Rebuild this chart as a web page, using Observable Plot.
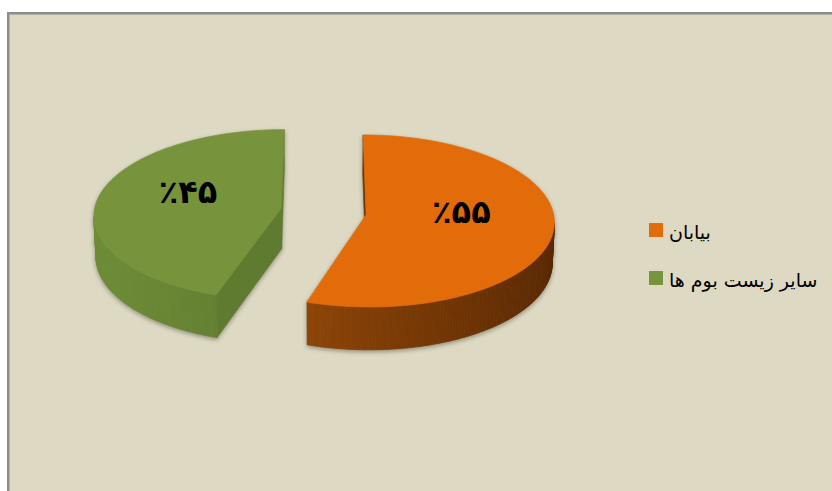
<!DOCTYPE html>
<html><head><meta charset="utf-8">
<script src="https://cdn.jsdelivr.net/npm/d3@7"></script>
<script src="https://cdn.jsdelivr.net/npm/@observablehq/plot@0.6"></script>
<style>
html,body{margin:0;padding:0;background:#fff;width:832px;height:491px;overflow:hidden;}
#frame{position:absolute;left:7px;top:12px;width:900px;height:600px;background:#DDD9C3;border-left:2px solid #8c8c8c;border-top:2px solid #8c8c8c;box-shadow:inset 1px 1px 0 #b3b1a6;}
#chart{position:absolute;left:0;top:0;}
#legend{position:absolute;left:649px;top:223px;font-family:"DejaVu Sans",sans-serif;font-size:19px;color:#000;}
.row{display:flex;align-items:center;height:14px;margin-bottom:34px;}
.sw{width:14px;height:14px;margin-right:6px;flex:none;}
.row span{position:relative;top:2px;white-space:nowrap;}
</style></head><body>
<div id="frame"></div>
<div id="chart"></div>
<div id="legend"></div>
<script>
// ---- data ----
const categories = ["بیابان", "سایر زیست بوم ها"];
const values = [55, 45];
const labels = ["٪۵۵", "٪۴۵"];
const topColors = ["#E36C0A", "#77933C"];
const wallLight = ["#A85309", "#6E8E37"];
const wallDark = ["#592803", "#52692A"];
const radialColors = ["#6E3306", "#5E7B30"];

// ---- 3D view parameters ----
const W = 832, H = 491, S = 187, CX = 323, CY = 211;
const sinT = 0.455, cosT = Math.sqrt(1 - sinT * sinT), T = 0.245, D = 12, EXP = 0.23;

function proj(X, Z, h) { // h: 0 top, 1 bottom
  const yUp = Z * sinT - h * T * cosT;
  const depth = Z * cosT + h * T * sinT;
  const s = D / (D + depth);
  return [X * s, yUp * s];
}
function visible(nX, nZ, PX, PZ) {
  return nX * (0 - PX) + nZ * (-D / cosT - PZ) > 0;
}

const arcs = d3.pie().sort(null).value(d => d)(values);
const rows = [];
const labelRows = [];
let pid = 0;
function addPoly(pts, fill) {
  const id = pid++;
  for (const [x, y] of pts) rows.push({id, x, y, fill});
}
arcs.forEach((a, i) => {
  const a0 = a.startAngle, a1 = a.endAngle, am = (a0 + a1) / 2;
  const cx = EXP * Math.sin(am), cz = EXP * Math.cos(am);
  const walls = [];
  const n = Math.ceil((a1 - a0) / (Math.PI / 180));
  const shade = d3.interpolateRgb(wallLight[i], wallDark[i]);
  for (let k = 0; k < n; k++) {
    const t0 = a0 + (a1 - a0) * k / n, t1 = a0 + (a1 - a0) * (k + 1) / n, tm = (t0 + t1) / 2;
    const nX = Math.sin(tm), nZ = Math.cos(tm);
    if (!visible(nX, nZ, cx + nX, cz + nZ)) continue;
    const p = (t, h) => proj(cx + Math.sin(t), cz + Math.cos(t), h);
    walls.push({depth: cz + nZ, pts: [p(t0, 0), p(t1, 0), p(t1, 1), p(t0, 1)], fill: shade((nX + 1) / 2)});
  }
  const radial = [[a0, -Math.cos(a0), Math.sin(a0)], [a1, Math.cos(a1), -Math.sin(a1)]];
  for (const [t, nX, nZ] of radial) {
    const mx = cx + Math.sin(t) / 2, mz = cz + Math.cos(t) / 2;
    if (!visible(nX, nZ, mx, mz)) continue;
    const ox = cx + Math.sin(t), oz = cz + Math.cos(t);
    walls.push({depth: mz, pts: [proj(cx, cz, 0), proj(ox, oz, 0), proj(ox, oz, 1), proj(cx, cz, 1)], fill: radialColors[i]});
  }
  walls.sort((p, q) => q.depth - p.depth).forEach(w => addPoly(w.pts, w.fill));
  const top = [proj(cx, cz, 0)];
  for (let k = 0; k <= n; k++) {
    const t = a0 + (a1 - a0) * k / n;
    top.push(proj(cx + Math.sin(t), cz + Math.cos(t), 0));
  }
  addPoly(top, topColors[i]);
  const r = 0.51;
  const [lx, ly] = proj(cx + r * Math.sin(am), cz + r * Math.cos(am), 0);
  labelRows.push({x: lx, y: ly, text: labels[i]});
});

const chart = Plot.plot({
  width: W, height: H, margin: 0,
  style: {background: "transparent", overflow: "visible"},
  x: {domain: [-CX / S, (W - CX) / S], range: [0, W], axis: null},
  y: {domain: [(CY - H) / S, CY / S], range: [H, 0], axis: null},
  color: {type: "identity"},
  marks: [
    Plot.line(rows, {x: "x", y: "y", z: "id", fill: "fill", stroke: "fill", strokeWidth: 0.7, curve: "linear-closed"}),
    Plot.text(labelRows, {x: "x", y: "y", text: "text", fontSize: 32, fontWeight: "bold", fontFamily: "DejaVu Sans", fill: "#000", dy: -9})
  ]
});
const lineGroup = chart.querySelector('g[aria-label="line"]');
if (lineGroup) lineGroup.style.filter = "drop-shadow(0px 2px 2px rgba(60,55,40,0.45))";
document.getElementById("chart").append(chart);

const legend = document.getElementById("legend");
categories.forEach((c, i) => {
  const row = document.createElement("div");
  row.className = "row";
  row.innerHTML = `<div class="sw" style="background:${topColors[i]}"></div><span>${c}</span>`;
  legend.append(row);
});
</script>
</body></html>
